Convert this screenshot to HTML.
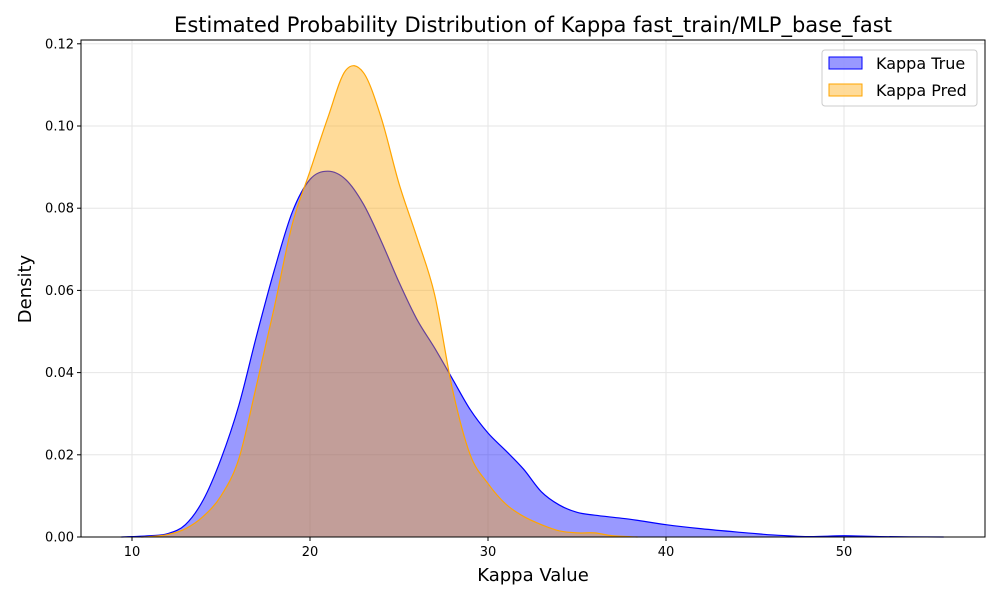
<!DOCTYPE html>
<html><head><meta charset="utf-8"><style>
body{margin:0;background:#fff;font-family:"Liberation Sans","DejaVu Sans",sans-serif}
</style></head><body>
<svg id="chart" width="1000" height="600" xmlns="http://www.w3.org/2000/svg" font-family="DejaVu Sans, Liberation Sans, sans-serif">
<rect width="1000" height="600" fill="#fff"/>
<text x="533" y="32" font-size="21" text-anchor="middle">Estimated Probability Distribution of Kappa fast_train/MLP_base_fast</text>
<g id="grid"></g>
<g id="series"></g>
<rect x="81" y="40" width="904" height="497" fill="none" stroke="#000" stroke-width="1"/>
<g id="ticks" font-size="13"></g>
<text x="533" y="581" font-size="18" text-anchor="middle">Kappa Value</text>
<text x="31" y="289" font-size="18" text-anchor="middle" transform="rotate(-90 31 289)">Density</text>
<g>
<rect x="822" y="50" width="155" height="56" rx="3" fill="#fff" fill-opacity="0.8" stroke="#ccc"/>
<rect x="829" y="57" width="33" height="12" fill="rgba(0,0,255,0.4)" stroke="#00f"/>
<text x="876" y="69" font-size="16">Kappa True</text>
<rect x="829" y="84" width="33" height="12" fill="rgba(255,165,0,0.4)" stroke="#ffa500"/>
<text x="876" y="96" font-size="16">Kappa Pred</text>
</g>
</svg>
<script>
const trueX=[9.4,10,11,12,13,14,15,16,17,18,19,20,21,22,23,24,25,26,27,28,29,30,31,32,33,34,35,36,38,40,42,44,46,48,50,52,55.6];
const trueY=[0,0.0001,0.0003,0.0008,0.003,0.009,0.019,0.032,0.049,0.065,0.079,0.087,0.089,0.087,0.081,0.072,0.062,0.053,0.046,0.0385,0.031,0.0253,0.021,0.0165,0.011,0.0078,0.006,0.0053,0.0043,0.003,0.002,0.0012,0.0005,0.0001,0.0003,0.0001,0];
const predX=[10.5,11,12,13,14,15,16,17,18,19,20,21,22,23,24,25,26,27,28,29,30,31,32,33,34,35,36,37,38.4];
const predY=[0,0.0001,0.0006,0.002,0.005,0.01,0.019,0.037,0.056,0.076,0.089,0.102,0.1135,0.113,0.102,0.086,0.073,0.059,0.036,0.02,0.013,0.008,0.005,0.003,0.0015,0.001,0.001,0.0003,0];
const xTicks=[10,20,30,40,50];
const yTicks=[0,0.02,0.04,0.06,0.08,0.10,0.12];
const yTickLabels=["0.00","0.02","0.04","0.06","0.08","0.10","0.12"];
const NS="http://www.w3.org/2000/svg";
const sx=v=>132+(v-10)*17.8;
const sy=v=>537-v*4110;
const grid=document.getElementById('grid'),ticks=document.getElementById('ticks'),series=document.getElementById('series');
function mk(tag,attrs,parent){const e=document.createElementNS(NS,tag);for(const k in attrs)e.setAttribute(k,attrs[k]);parent.appendChild(e);return e;}
xTicks.forEach(t=>{
 const g=mk('line',{x1:sx(t),x2:sx(t),y1:40,y2:537,stroke:'#e6e6e6','stroke-width':1},grid);
 
 
 mk('line',{x1:sx(t),x2:sx(t),y1:537,y2:541,stroke:'#000'},ticks);
 const tx=mk('text',{x:sx(t),y:556,'text-anchor':'middle'},ticks);tx.textContent=t;
 
 
});
yTicks.forEach((t,i)=>{
 const g=mk('line',{x1:81,x2:985,y1:sy(t),y2:sy(t),stroke:'#e6e6e6','stroke-width':1},grid);
 
 
 mk('line',{x1:77,x2:81,y1:sy(t),y2:sy(t),stroke:'#000'},ticks);
 const tx=mk('text',{x:74,y:sy(t)+4.5,'text-anchor':'end'},ticks);tx.textContent=yTickLabels[i];
 
 
});
function smooth(xs,ys){
 const p=xs.map((x,i)=>[sx(x),sy(ys[i])]);
 let d=`M${p[0][0]},${p[0][1]}`;
 for(let i=0;i<p.length-1;i++){
  const p0=p[i-1]||p[i],p1=p[i],p2=p[i+1],p3=p[i+2]||p2;
  const c1=[p1[0]+(p2[0]-p0[0])/6,p1[1]+(p2[1]-p0[1])/6];
  const c2=[p2[0]-(p3[0]-p1[0])/6,p2[1]-(p3[1]-p1[1])/6];
  d+=`C${c1[0]},${c1[1]} ${c2[0]},${c2[1]} ${p2[0]},${p2[1]}`;
 }
 return d;
}
function draw(xs,ys,col,name){
 const line=smooth(xs,ys);
 const f=mk('path',{d:line+`L${sx(xs[xs.length-1])},537L${sx(xs[0])},537Z`,fill:col,'fill-opacity':0.4,stroke:'none'},series);
 
 
 const l=mk('path',{d:line,fill:'none',stroke:col,'stroke-width':1.2},series);
 
 
}
draw(trueX,trueY,'#0000ff','kappa-true');
draw(predX,predY,'#ffa500','kappa-pred');
</script>
</body></html>
